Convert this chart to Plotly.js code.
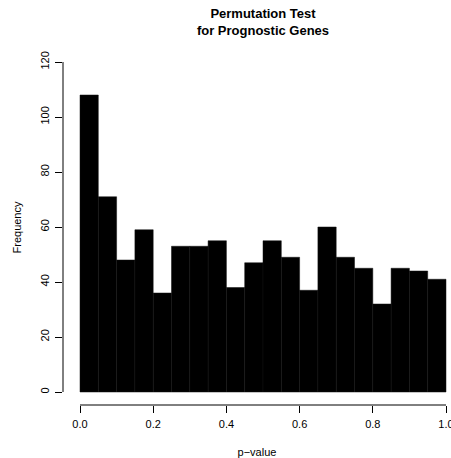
<!DOCTYPE html>
<html>
<head>
<meta charset="utf-8">
<script src="https://cdn.plot.ly/plotly-3.0.1.min.js"></script>
<style>html,body{margin:0;padding:0;background:#fff}#chart{width:451px;height:458px}</style>
</head>
<body>
<div id="chart"></div>
<script>
const breaks = [0,0.05,0.10,0.15,0.20,0.25,0.30,0.35,0.40,0.45,0.50,0.55,0.60,0.65,0.70,0.75,0.80,0.85,0.90,0.95,1.00];
const counts = [108,71,48,59,36,53,53,55,38,47,55,49,37,60,49,45,32,45,44,41];
const xTicks = [0,0.2,0.4,0.6,0.8,1.0];
const xTickLabels = ["0.0","0.2","0.4","0.6","0.8","1.0"];
const yTicks = [0,20,40,60,80,100,120];
const yTickLabels = ["0","20","40","60","80","100","120"];

const mids = counts.map((c,i)=> (breaks[i]+breaks[i+1])/2);
const widths = counts.map((c,i)=> breaks[i+1]-breaks[i]);

const font = {family:'"Liberation Sans", Arial, sans-serif', size:11, color:'#000'};

const trace = {
  type:'bar', x:mids, y:counts, width:widths,
  marker:{color:'#000', line:{color:'#111', width:0.5}},
  hoverinfo:'x+y'
};

const W=451,H=458, L=63, R=0, T=50, B=53;
const x0px=80, x1px=446, y0px=392, y120px=62;
const pxPerX=(x1px-x0px)/1, pxPerY=(y0px-y120px)/120;
const xRange=[(L-x0px)/pxPerX, (W-R-x0px)/pxPerX];
const yRange=[(y0px-(H-B))/pxPerY, (y0px-T)/pxPerY];

const layout = {
  width:W, height:H,
  margin:{l:L,r:R,t:T,b:B,pad:0},
  paper_bgcolor:'#fff', plot_bgcolor:'#fff',
  font:font,
  showlegend:false,
  bargap:0,
  title:{text:'<b>Permutation Test<br>for Prognostic Genes</b>', font:{family:font.family,size:13,color:'#000'},
         xref:'container', x:263/W, xanchor:'center', yref:'container', y:1-18/H, yanchor:'top'},
  xaxis:{range:xRange, showgrid:false, zeroline:false, showline:false,
         tickvals:xTicks, ticktext:xTickLabels, ticks:'outside', ticklen:7, tickwidth:1, tickcolor:'#000',
         ticklabeloverflow:'allow', ticklabelstandoff:2,
         tickfont:font, title:{text:'p\u2212value', font:font, standoff:20}, automargin:false, fixedrange:true},
  yaxis:{range:yRange, showgrid:false, zeroline:false, showline:false,
         tickvals:yTicks, ticktext:yTickLabels, ticks:'outside', ticklen:7, tickwidth:1, tickcolor:'#000',
         ticklabelstandoff:2,
         tickangle:-90, tickfont:font, title:{text:'Frequency', font:font, standoff:14}, automargin:false, fixedrange:true},
  shapes:[
    {type:'line', xref:'x', yref:'paper', x0:xTicks[0], x1:xTicks[xTicks.length-1], y0:0, y1:0, line:{color:'#000',width:1}},
    {type:'line', xref:'paper', yref:'y', x0:0, x1:0, y0:yTicks[0], y1:yTicks[yTicks.length-1], line:{color:'#000',width:1}}
  ]
};

Plotly.newPlot('chart',[trace],layout,{displayModeBar:false,staticPlot:true});
</script>
</body>
</html>
